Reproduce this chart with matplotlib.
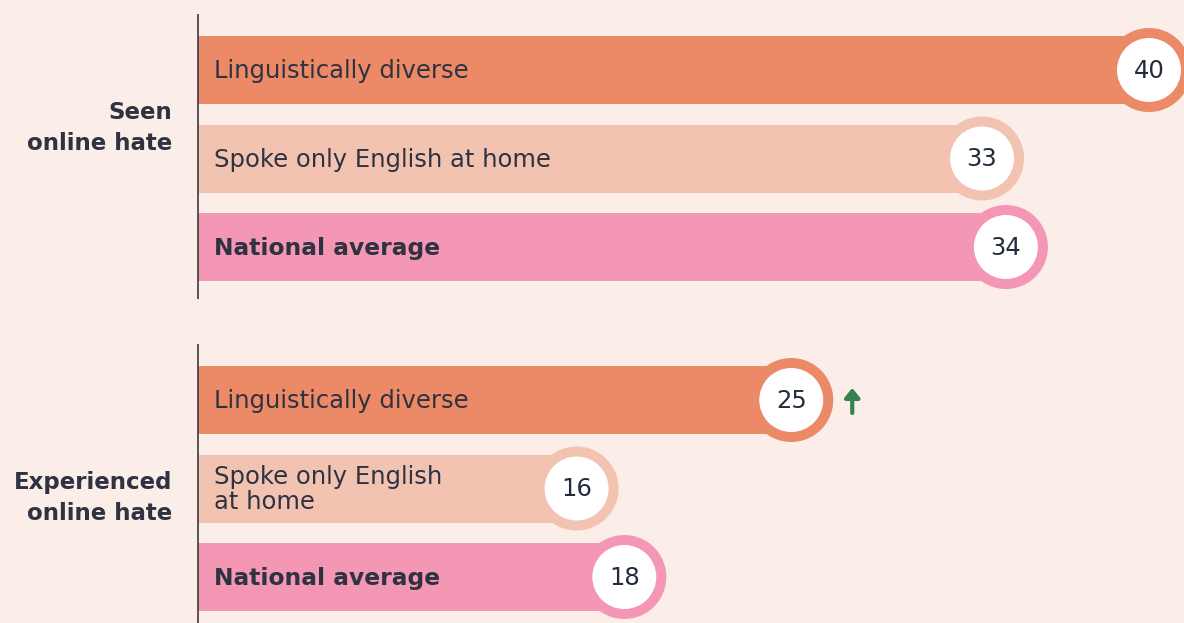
import matplotlib
matplotlib.use("Agg")
import matplotlib.pyplot as plt

# ---- data ----
groups = ["Seen\nonline hate", "Experienced\nonline hate"]
categories = ["Linguistically diverse", "Spoke only English at home", "National average"]
cat_labels_g2 = ["Linguistically diverse", "Spoke only English\nat home", "National average"]
seen_values = [40, 33, 34]
experienced_values = [25, 16, 18]
significant_up = [[False, False, False], [True, False, False]]

# ---- style ----
BG = "#FBEDE7"
bar_colors = ["#EC8966", "#F3C3B1", "#F497B5"]
TEXT = "#2F3241"
NUM = "#232B3E"
ARROW = "#37804F"
FONT = ["DejaVu Sans"]

W, H, DPI = 1184, 623, 100
fig = plt.figure(figsize=(W / DPI, H / DPI), dpi=DPI, facecolor=BG)
x0_px = 198
zero_px = 195
px_per_unit = 23.85
ax = fig.add_axes([x0_px / W, 0, 1 - x0_px / W, 1])
ax.set_facecolor(BG)
ax.set_xlim((x0_px - zero_px) / px_per_unit, (W - zero_px) / px_per_unit)
ax.set_ylim(H, 0)
ax.axis("off")
axis_x = (x0_px - zero_px) / px_per_unit

bar_h = 68
spacing = 88.5
group_top = [70, 400]
group_label_y = [128, 498]
outer_d_pt = 84 * 72 / DPI
inner_d_pt = 64 * 72 / DPI

all_values = [seen_values, experienced_values]
all_labels = [categories, cat_labels_g2]

for g, (vals, labs) in enumerate(zip(all_values, all_labels)):
    ys = [group_top[g] + i * spacing for i in range(len(vals))]
    # axis line
    ax.plot([axis_x, axis_x], [ys[0] - 56, min(ys[-1] + 52, H)], color="#3A3A44", lw=1.2,
            solid_capstyle="butt", zorder=5, clip_on=False)
    ax.barh(ys, vals, height=bar_h, color=bar_colors, left=0, zorder=1)
    ax.scatter(vals, ys, s=outer_d_pt ** 2, c=bar_colors, edgecolors="none", zorder=2)
    ax.scatter(vals, ys, s=inner_d_pt ** 2, c="white", edgecolors="none", zorder=3)
    for i, (v, y, lab) in enumerate(zip(vals, ys, labs)):
        bold = lab == "National average"
        ax.text(axis_x + 16 / px_per_unit, y + 1, lab, ha="left", va="center",
                fontsize=16.8 if bold else 17.5, color=TEXT, family=FONT,
                fontweight="bold" if bold else "normal", linespacing=1.05, zorder=4)
        ax.text(v, y + 1, f"{v}", ha="center", va="center", fontsize=17.5,
                color=NUM, family=FONT, zorder=4)
        if significant_up[g][i]:
            ax.annotate("", xy=(v + 61 / px_per_unit, y - 12),
                        xytext=(v + 61 / px_per_unit, y + 13),
                        arrowprops=dict(arrowstyle="-|>,head_length=0.55,head_width=0.45",
                                        color=ARROW, lw=3, shrinkA=0, shrinkB=0),
                        zorder=4)
    ax.text(axis_x - 26 / px_per_unit, group_label_y[g], groups[g], ha="right", va="center",
            fontsize=16.5, fontweight="bold", color=TEXT, family=FONT,
            linespacing=1.45)

fig.savefig("out.png", dpi=DPI, facecolor=BG)
